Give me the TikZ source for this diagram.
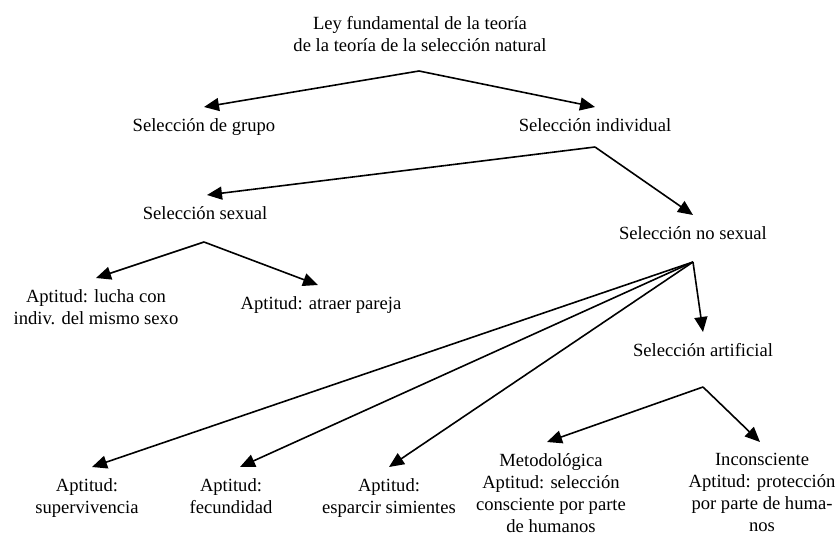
\documentclass[tikz,border=0pt]{standalone}
\usepackage{fontspec}
\setmainfont{Liberation Serif}
\usetikzlibrary{arrows.meta}
\begin{document}
\begin{tikzpicture}[x=1pt,y=-1pt,
  txt/.style={font=\fontsize{18.6}{22}\selectfont,align=center,anchor=north,inner xsep=0pt,inner ysep=11pt},
  arr/.style={line width=1.6pt,-{Triangle[length=15pt,width=13pt]}}]
\useasboundingbox (0,0) rectangle (838,535);
\node [txt,anchor=center,inner ysep=0pt] (ley) at (420,34) {Ley fundamental de la teoría\\de la teoría de la selección natural};
\coordinate (f0) at (419,71);
\coordinate (f1) at (595,147);
\coordinate (f2) at (204,242);
\coordinate (f3) at (693,262);
\coordinate (f4) at (703,387);
\node [txt] (grupo) at (204,107) {Selección de grupo};
\node [txt] (indiv) at (595,107) {Selección individual};
\node [txt] (sexual) at (205,195) {Selección sexual};
\node [txt] (nosexual) at (693,215) {Selección no sexual};
\node [txt] (lucha) at (96,278) {Aptitud: lucha con\\indiv. del mismo sexo};
\node [txt] (atraer) at (321,285) {Aptitud: atraer pareja};
\node [txt] (artif) at (703,332) {Selección artificial};
\node [txt] (superv) at (87,467) {Aptitud:\\supervivencia};
\node [txt] (fecund) at (231,467) {Aptitud:\\fecundidad};
\node [txt] (espar) at (389,467) {Aptitud:\\esparcir simientes};
\node [txt] (metod) at (551,442) {Metodológica\\Aptitud: selección\\consciente por parte\\de humanos};
\node [txt] (incons) at (762,442) {Inconsciente\\Aptitud: protección\\por parte de huma-\\nos};
\draw [arr] (f0) -- (grupo.north);
\draw [arr] (f0) -- (indiv.north);
\draw [arr] (f1) -- ([xshift=2pt]sexual.north);
\draw [arr] (f1) -- (nosexual.north);
\draw [arr] (f2) -- (lucha.north);
\draw [arr] (f2) -- ([xshift=-3pt]atraer.north);
\draw [arr] (f3) -- ([xshift=5pt]superv.north);
\draw [arr] (f3) -- ([xshift=9pt]fecund.north);
\draw [arr] (f3) -- (espar.north);
\draw [arr] (f3) -- (artif.north);
\draw [arr] (f4) -- ([xshift=-4pt]metod.north);
\draw [arr] (f4) -- ([xshift=-2pt]incons.north);
\end{tikzpicture}
\end{document}
